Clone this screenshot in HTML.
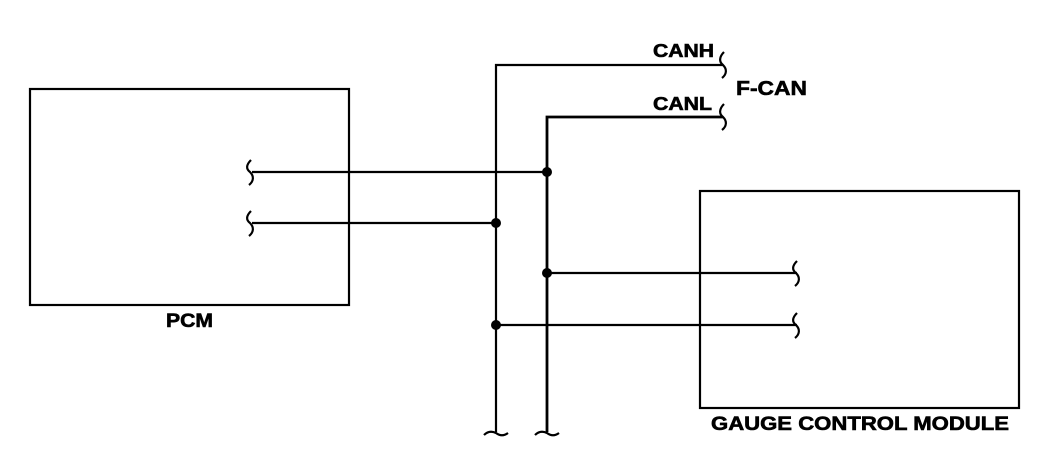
<!DOCTYPE html>
<html><head><meta charset="utf-8"><style>
html,body{margin:0;padding:0;background:#fff;}
svg{display:block;}
text{font-family:"Liberation Sans",Arial,sans-serif;font-weight:bold;fill:#000;stroke:#000;stroke-width:0.6;}
</style></head><body>
<svg width="1056" height="454" viewBox="0 0 1056 454" xmlns="http://www.w3.org/2000/svg">
<g fill="none" stroke="#000" stroke-width="2.2">
<rect x="30" y="89" width="319" height="216"/>
<rect x="700" y="191" width="319" height="217"/>
<polyline points="496,432 496,65 723,65"/>
<polyline points="547,432 547,117 723,117" stroke-width="2.8"/>
<line x1="252" y1="172" x2="547" y2="172"/>
<line x1="252" y1="223" x2="496" y2="223"/>
<line x1="547" y1="273" x2="797" y2="273"/>
<line x1="496" y1="325" x2="797" y2="325"/>
<path d="M724,52 C719,57 719,62 723,65 C727,69 727,74 722,78"/>
<path d="M724,104 C719,109 719,114 723,117 C727,121 727,126 722,130"/>
<path d="M251,160 C246,165 246,169 250,172 C254,176 254,181 249,185"/>
<path d="M251,211 C246,216 246,220 250,223 C254,227 254,232 249,236"/>
<path d="M797,261 C792,266 792,270 796,273 C800,277 800,282 795,286"/>
<path d="M797,313 C792,318 792,322 796,325 C800,329 800,334 795,338"/>
<path d="M484,435 C488,431 492,431 496,433 C500,436 504,436 508,433"/>
<path d="M535,435 C539,431 543,431 547,433 C551,436 555,436 559,433"/>
</g>
<g fill="#000">
<circle cx="547" cy="172" r="5"/>
<circle cx="496" cy="223" r="5"/>
<circle cx="547" cy="273" r="5"/>
<circle cx="496" cy="325" r="5"/>
</g>
<text x="653" y="57" font-size="18" textLength="61" lengthAdjust="spacingAndGlyphs">CANH</text>
<text x="653" y="110" font-size="18" textLength="59" lengthAdjust="spacingAndGlyphs">CANL</text>
<text x="736" y="95" font-size="20" textLength="71" lengthAdjust="spacingAndGlyphs">F-CAN</text>
<text x="166" y="327" font-size="19" textLength="47" lengthAdjust="spacingAndGlyphs">PCM</text>
<text x="711" y="430" font-size="19" textLength="298" lengthAdjust="spacingAndGlyphs">GAUGE CONTROL MODULE</text>
</svg>
</body></html>
